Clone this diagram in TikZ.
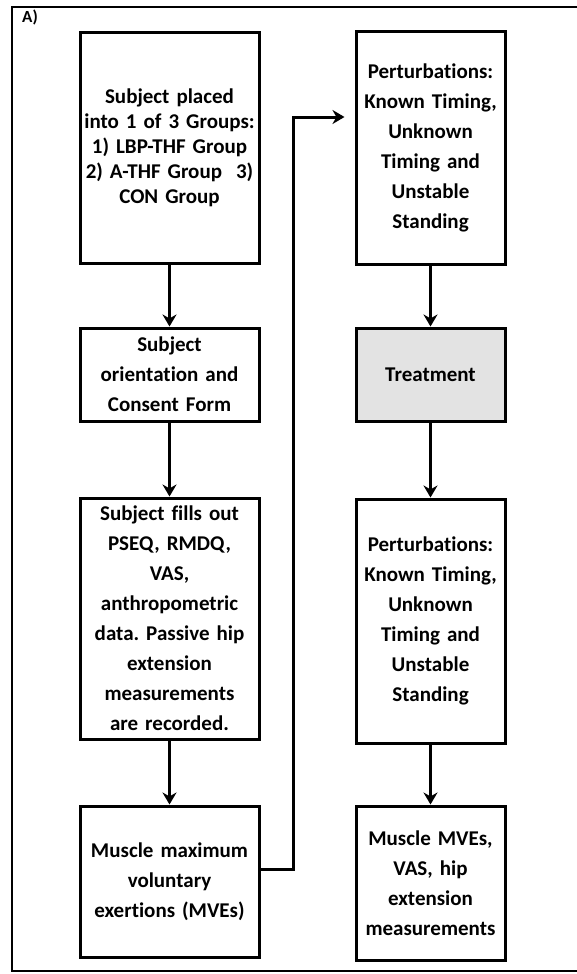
\documentclass[tikz,border=0pt]{standalone}
\usepackage{fontspec}
\setmainfont{Carlito}[Ligatures=NoCommon]
\usetikzlibrary{arrows.meta, positioning}
\frenchspacing

\begin{document}
\begin{tikzpicture}[
    x=1pt, y=-1pt,
    node distance=62pt and 94pt,
    stage/.style={rectangle, draw, line width=3pt, align=center, inner sep=1.5pt, font=\bfseries\fontsize{21}{30}\selectfont},
    wide/.style={stage, minimum width=179pt, text width=176pt},
    narrow/.style={stage, minimum width=149pt, text width=146pt},
    arrow/.style={-{Stealth[length=12pt, width=14pt]}, line width=3pt}
]
\useasboundingbox (0,0) rectangle (577,974);

% outer frame and tag
\draw[line width=2.5pt] (577,7) -- (12,7) -- (12,971) -- (577,971);
\node[anchor=north west, inner sep=1pt, font=\bfseries\fontsize{17}{19}\selectfont] (tag) at (21,9) {A)};

% left column
\node[wide, minimum height=230pt, font=\bfseries\fontsize{21}{25}\selectfont] (groups) at (169.5,148) {Subject placed\\ into 1 of 3 Groups:\\ 1) LBP-THF Group\\ \makebox[\linewidth]{2) A-THF Group\ \ 3)}\\ CON Group\\[4pt]};
\node[wide, minimum height=93pt, below=of groups] (consent) {Subject\\ orientation and\\ Consent Form};
\node[wide, minimum height=241pt, below=74pt of consent] (forms) {Subject fills out\\ PSEQ, RMDQ,\\ VAS,\\ anthropometric\\ data. Passive hip\\ extension\\ measurements\\ are recorded.};
\node[wide, minimum height=151pt, below=64pt of forms] (mves) {Muscle maximum\\ voluntary\\ exertions (MVEs)};

% right column
\node[narrow, minimum height=232pt, right=of groups] (pertpre) {Perturbations:\\ Known Timing,\\ Unknown\\ Timing and\\ Unstable\\ Standing};
\node[narrow, minimum height=93pt, fill=gray!22, below=61pt of pertpre] (treat) {Treatment};
\node[narrow, minimum height=244pt, below=75pt of treat] (pertpost) {Perturbations:\\ Known Timing,\\ Unknown\\ Timing and\\ Unstable\\ Standing};
\node[narrow, minimum height=154pt, below=60pt of pertpost] (final) {Muscle MVEs,\\ VAS, hip\\ extension\\ measurements};

\draw[arrow] (groups) -- (consent);
\draw[arrow] (consent) -- (forms);
\draw[arrow] (forms) -- (mves);
\draw[arrow, shorten >=10pt] ([yshift=12pt]mves.east) -- ++(33,0) |- ([yshift=31pt]pertpre.west);
\draw[arrow] (pertpre) -- (treat);
\draw[arrow] (treat) -- (pertpost);
\draw[arrow] (pertpost) -- (final);

\end{tikzpicture}
\end{document}
